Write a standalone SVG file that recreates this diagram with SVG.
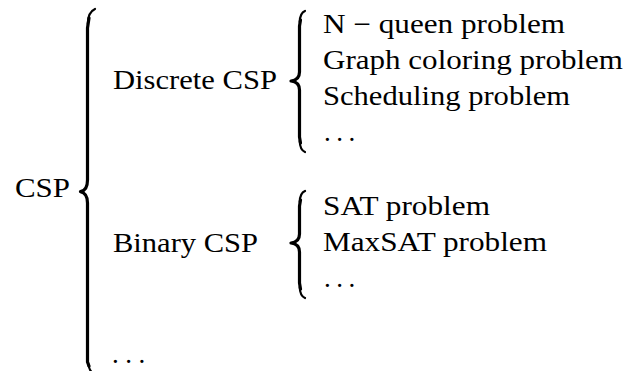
<svg xmlns="http://www.w3.org/2000/svg" width="628" height="371" viewBox="0 0 628 371">
<style>
  .t { font-family: "Liberation Serif", serif; font-size: 27px; fill: #000; }
  .brace { fill: none; stroke: #000; stroke-width: 3.2; stroke-linecap: round; stroke-linejoin: round; }
  .curl { fill: none; stroke: #000; stroke-width: 2.2; stroke-linecap: round; }
</style>
<rect width="628" height="371" fill="#fff"/>
<g id="connectors">
  <path class="brace" d="M89,18 L87.5,28 L87.5,180 Q87.5,190.5 80.5,191.7 Q87.5,193 87.5,203 L87.5,362 L89,366"/>
  <path class="curl" d="M95,9 Q88,12 87.8,24 M87.8,360 Q88,371 95,375"/>
  <path class="brace" d="M300.5,20 L299.5,26 L299.5,72 Q299.5,80 291,81 Q299.5,82 299.5,90 L299.5,137 L300.5,143"/>
  <path class="curl" d="M305,11 Q300,13 299.7,22 M299.7,141 Q300,150 305,152"/>
  <path class="brace" d="M300.5,200 L299.5,206 L299.5,234 Q299.5,242 291,243 Q299.5,244 299.5,252 L299.5,283 L300.5,289"/>
  <path class="curl" d="M305,191 Q300,193 299.7,202 M299.7,287 Q300,296 305,298"/>
</g>
<g id="node-csp"><text class="t" x="15" y="197" textLength="55" lengthAdjust="spacingAndGlyphs">CSP</text></g>
<g id="node-discrete"><text class="t" x="113" y="89" textLength="164" lengthAdjust="spacingAndGlyphs">Discrete CSP</text></g>
<g id="node-binary"><text class="t" x="113" y="252" textLength="145" lengthAdjust="spacingAndGlyphs">Binary CSP</text></g>
<g id="node-more"><text class="t" x="112" y="363" letter-spacing="6.5">...</text></g>
<g id="leaf-nqueen"><text class="t" x="323" y="33" textLength="242" lengthAdjust="spacingAndGlyphs">N − queen problem</text></g>
<g id="leaf-graph"><text class="t" x="323" y="69" textLength="300" lengthAdjust="spacingAndGlyphs">Graph coloring problem</text></g>
<g id="leaf-sched"><text class="t" x="323" y="105" textLength="247" lengthAdjust="spacingAndGlyphs">Scheduling problem</text></g>
<g id="leaf-more1"><text class="t" x="324" y="141" letter-spacing="5.5">...</text></g>
<g id="leaf-sat"><text class="t" x="323" y="215" textLength="167" lengthAdjust="spacingAndGlyphs">SAT problem</text></g>
<g id="leaf-maxsat"><text class="t" x="323" y="251" textLength="224" lengthAdjust="spacingAndGlyphs">MaxSAT problem</text></g>
<g id="leaf-more2"><text class="t" x="324" y="287" letter-spacing="5.5">...</text></g>
</svg>
